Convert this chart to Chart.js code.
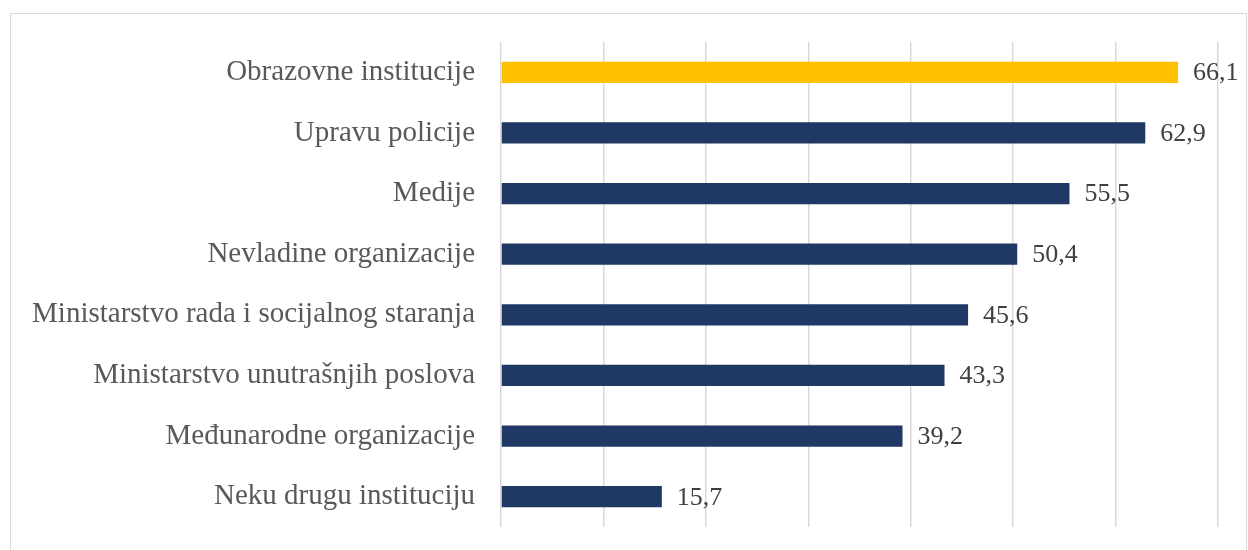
<!DOCTYPE html>
<html>
<head>
<meta charset="utf-8">
<script src="https://cdn.jsdelivr.net/npm/chart.js@4"></script>
<style>
  html, body { margin: 0; padding: 0; background: #fff; }
  body { width: 1248px; height: 550px; position: relative; overflow: hidden; }
  #frame { position: absolute; left: 10px; top: 13px; width: 1235px; height: 560px; border: 1px solid #d9d9d9; }
  #wrap { position: absolute; left: 0; top: 0; width: 1248px; height: 550px; }
</style>
</head>
<body>
<div id="frame"></div>
<div id="wrap"><canvas id="myChart"></canvas></div>
<script>
// podaci sa slike
const institucije = [
    'Obrazovne institucije',
    'Upravu policije',
    'Medije',
    'Nevladine organizacije',
    'Ministarstvo rada i socijalnog staranja',
    'Ministarstvo unutrašnjih poslova',
    'Međunarodne organizacije',
    'Neku drugu instituciju'
];
const procenti = [66.1, 62.9, 55.5, 50.4, 45.6, 43.3, 39.2, 15.7];
const boje = ['#FFC000', '#203864', '#203864', '#203864', '#203864', '#203864', '#203864', '#203864'];
const xTicks = [0, 10, 20, 30, 40, 50, 60, 70];

const font = 'Liberation Serif';

// vrijednosti desno od stubica
const valueLabels = {
    id: 'valueLabels',
    afterDatasetsDraw(chart) {
        const c = chart.ctx;
        const meta = chart.getDatasetMeta(0);
        c.save();
        c.font = '26px "' + font + '"';
        c.fillStyle = '#404040';
        c.textAlign = 'left';
        c.textBaseline = 'middle';
        meta.data.forEach((bar, i) => {
            const txt = procenti[i].toFixed(1).replace('.', ',');
            c.fillText(txt, bar.x + 15, bar.y + 1);
        });
        c.restore();
    }
};

const ctx = document.getElementById('myChart').getContext('2d');
const myChart = new Chart(ctx, {
    type: 'bar',
    plugins: [valueLabels],
    data: {
        labels: institucije,
        datasets: [{
            data: procenti,
            backgroundColor: boje,
            borderWidth: 0,
            categoryPercentage: 1,
            barPercentage: 0.35
        }]
    },
    options: {
        indexAxis: 'y',
        responsive: true,
        maintainAspectRatio: false,
        animation: false,
        layout: {
            padding: { top: 42, bottom: 23, right: 30, left: 0 }
        },
        scales: {
            x: {
                min: 0,
                max: 70,
                afterBuildTicks: (scale) => { scale.ticks = xTicks.map(v => ({ value: v })); },
                afterFit: (scale) => { scale.height = 0; scale.paddingLeft = 0; scale.paddingRight = 0; },
                ticks: { display: false },
                grid: { color: '#d9d9d9', lineWidth: 1.5, drawTicks: false },
                border: { display: false }
            },
            y: {
                afterFit: (scale) => { scale.width = 501; scale.paddingTop = 0; scale.paddingBottom = 0; },
                ticks: {
                    color: '#595959',
                    padding: 18,
                    font: { family: font, size: 29 }
                },
                grid: { display: false },
                border: { display: false }
            }
        },
        plugins: {
            legend: { display: false },
            tooltip: { enabled: false }
        }
    }
});
</script>
</body>
</html>
